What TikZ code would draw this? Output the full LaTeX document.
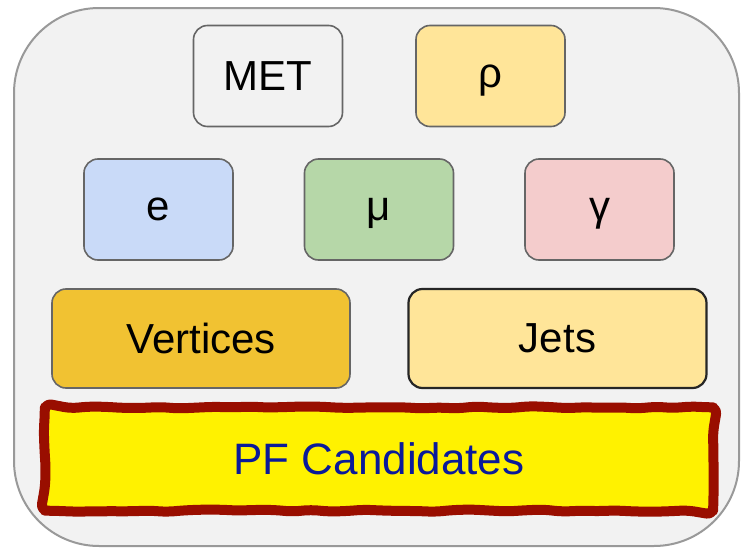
\documentclass[tikz,border=0pt]{standalone}
\usepackage{fontspec}
\setmainfont{Liberation Sans}
\usetikzlibrary{decorations.pathmorphing}

\definecolor{panelbg}{HTML}{F2F2F2}
\definecolor{panelline}{HTML}{999999}
\definecolor{boxline}{HTML}{666666}
\definecolor{metfill}{HTML}{F2F2F2}
\definecolor{rhofill}{HTML}{FFE599}
\definecolor{efill}{HTML}{C9DAF8}
\definecolor{mufill}{HTML}{B6D7A8}
\definecolor{gammafill}{HTML}{F4CCCC}
\definecolor{vtxfill}{HTML}{F1C232}
\definecolor{jetfill}{HTML}{FFE599}
\definecolor{pfline}{HTML}{990E00}
\definecolor{pftext}{HTML}{0A1A9A}

\tikzset{
    objbox/.style={draw=boxline, line width=1.6, rounded corners=14,
        minimum width=149, minimum height=101, inner sep=0, text depth=0pt,
        font=\fontsize{42}{48}\selectfont},
    widebox/.style={objbox, minimum width=298, minimum height=99},
    pfedge/.style={draw=pfline, line width=10, line join=round, line cap=round,
        decoration={random steps, segment length=18, amplitude=1.2},
        decorate, rounded corners=7}
}

\begin{document}
\begin{tikzpicture}[x=1pt, y=-1pt]
    \pgfmathsetseed{5}
    \useasboundingbox (0,0) rectangle (745,549);

    % --- Outer panel ---
    \draw[fill=panelbg, draw=panelline, line width=2, rounded corners=85]
        (14,8) rectangle (739,546);

    % --- Top row ---
    \node[objbox, fill=metfill] (met) at (268,76) {MET};
    \node[objbox, fill=rhofill] (rho) at (490.5,76) {ρ};

    % --- Lepton and photon row ---
    \node[objbox, fill=efill] (ele) at (158.5,209.5) {e};
    \node[objbox, fill=mufill] (muon) at (379,209.5) {μ};
    \node[objbox, fill=gammafill] (pho) at (599.5,209.5) {γ};

    % --- Vertices and jets ---
    \node[widebox, fill=vtxfill] (vtx) at (201,338.5) {Vertices};
    \node[widebox, fill=jetfill, draw=black!85, line width=2.2] (jets) at (557.5,338.5) {Jets};

    % --- PF candidates, sketchy border ---
    \node[fill=yellow, inner sep=0, rounded corners=9, text depth=0pt,
        minimum width=668, minimum height=103,
        text=pftext, font=\fontsize{44}{50}\selectfont] (pf) at (379,459) {PF Candidates};
    \draw[pfedge] (pf.north) -- (pf.north east) -- (pf.south east)
        -- (pf.south west) -- (pf.north west) -- cycle;

\end{tikzpicture}
\end{document}
